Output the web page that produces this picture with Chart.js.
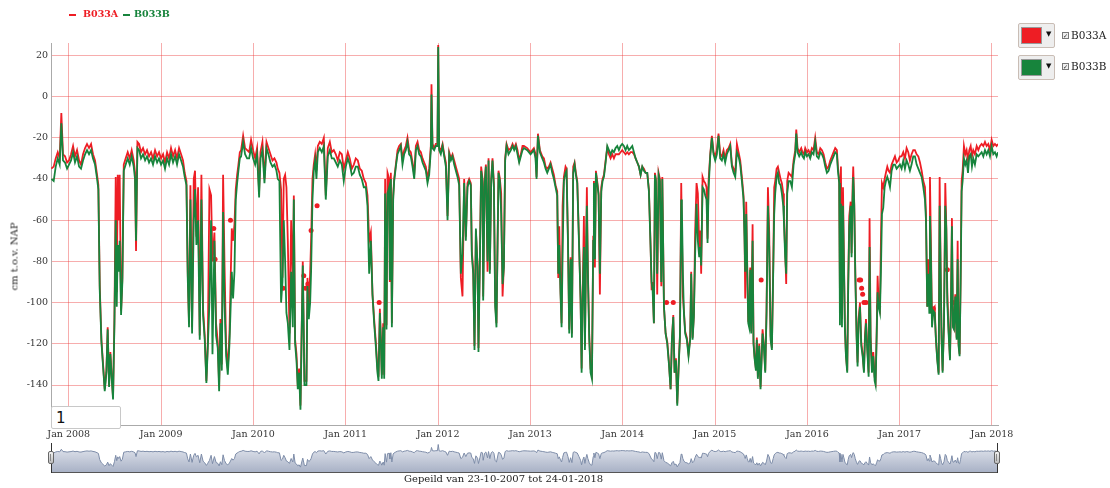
<!DOCTYPE html>
<html>
<head>
<meta charset="utf-8">
<script src="https://cdn.jsdelivr.net/npm/chart.js@4/dist/chart.umd.min.js"></script>
<style>
  body { margin: 0; background: #fff; }
  #wrap { position: relative; width: 1110px; height: 488px; overflow: hidden; font-family: "DejaVu Serif", serif; color: #222; }
  #main { position: absolute; left: 0; top: 0; }
  #mini { position: absolute; left: 51px; top: 444px; }
  .abs { position: absolute; white-space: nowrap; }
  .dash { position: absolute; height: 2px; width: 7px; top: 14px; }
  .leg { position: absolute; top: 8px; font-weight: bold; font-size: 9.5px; }
  .pick { position: absolute; left: 1018px; width: 37px; height: 25px; box-sizing: border-box; border: 1px solid #c9bdb5; background: #eeeeee; border-radius: 2px; }
  .sw { position: absolute; left: 2px; top: 3px; width: 21px; height: 17px; border: 1px solid #999; box-sizing: border-box; }
  .arr { position: absolute; left: 27px; top: 6px; font-size: 7px; color: #111; font-family: "DejaVu Sans", sans-serif; }
  .cb { position: absolute; left: 1062px; width: 7px; height: 7px; box-sizing: border-box; border: 1px solid #777; background: #eee; font-family: "DejaVu Sans", sans-serif; font-size: 6px; line-height: 5px; text-align: center; color: #222; }
  .lbl { position: absolute; left: 1071px; font-size: 10.5px; color: #222; }
  #roll { position: absolute; left: 51px; top: 406px; width: 70px; height: 23px; box-sizing: border-box; border: 1px solid #c8c8c8; border-radius: 2px; background: #fff; font-family: "DejaVu Sans", sans-serif; font-size: 15px; padding: 0 0 0 4px; color: #111; }
  .handle { position: absolute; width: 6px; height: 13px; top: 451px; box-sizing: border-box; border: 1px solid #666; border-radius: 2px; background: linear-gradient(#f2f2f2, #bdbdbd); }
  .handle::after { content: ""; position: absolute; left: 1px; top: 2px; width: 2px; height: 7px; border-left: 1px solid #888; }
  .vline { position: absolute; width: 1px; top: 443px; height: 30px; background: #333; }
  #ytitle { position: absolute; left: -36px; top: 251px; width: 100px; text-align: center; font-size: 10px; font-weight: normal; color: #222; transform: rotate(-90deg); white-space: nowrap; }
</style>
</head>
<body>
<div id="wrap">
  <canvas id="main" width="1110" height="445"></canvas>
  <canvas id="mini" width="947" height="28"></canvas>
  <div class="abs" style="left:51px;top:472px;width:947px;height:1px;background:#555;"></div>
  <div class="vline" style="left:51px;"></div>
  <div class="vline" style="left:997px;"></div>
  <div class="handle" style="left:48px;"></div>
  <div class="handle" style="left:994px;"></div>

  <div class="dash" style="left:69px;background:#ee1d24;"></div>
  <div class="leg" style="left:83px;color:#ee1d24;">B033A</div>
  <div class="dash" style="left:123px;background:#17843c;"></div>
  <div class="leg" style="left:134px;color:#17843c;">B033B</div>

  <div class="pick" style="top:23px;"><span class="sw" style="background:#ee1d24;"></span><span class="arr">&#9660;</span></div>
  <div class="cb" style="top:32px;">&#10003;</div>
  <div class="lbl" style="top:29px;">B033A</div>
  <div class="pick" style="top:55px;"><span class="sw" style="background:#17843c;"></span><span class="arr">&#9660;</span></div>
  <div class="cb" style="top:63px;">&#10003;</div>
  <div class="lbl" style="top:60px;">B033B</div>

  <div id="ytitle">cm t.o.v. NAP</div>
  <input id="roll" type="text" value="1">
  <div class="abs" style="left:404px;top:473px;font-size:10px;">Gepeild van 23-10-2007 tot 24-01-2018</div>
</div>
<script>
// Time of each reading, in decimal years
const dates = [
  2007.812,2007.837,2007.859,2007.881,2007.902,2007.920,2007.938,2007.960,2007.982,2008.003,2008.025,2008.047,
  2008.068,2008.090,2008.112,2008.133,2008.155,2008.177,2008.198,2008.220,2008.242,2008.263,2008.285,2008.307,
  2008.321,2008.336,2008.354,2008.372,2008.390,2008.408,2008.422,2008.437,2008.451,2008.466,2008.480,2008.495,
  2008.509,2008.520,2008.531,2008.541,2008.552,2008.567,2008.581,2008.596,2008.617,2008.639,2008.661,2008.682,
  2008.704,2008.718,2008.729,2008.744,2008.762,2008.783,2008.805,2008.827,2008.848,2008.870,2008.892,2008.913,
  2008.935,2008.957,2008.978,2009.000,2009.022,2009.043,2009.065,2009.087,2009.108,2009.130,2009.152,2009.173,
  2009.195,2009.217,2009.238,2009.256,2009.275,2009.289,2009.303,2009.318,2009.336,2009.354,2009.368,2009.383,
  2009.401,2009.419,2009.437,2009.455,2009.473,2009.491,2009.506,2009.524,2009.542,2009.557,2009.578,2009.596,
  2009.614,2009.629,2009.643,2009.658,2009.672,2009.687,2009.705,2009.723,2009.741,2009.766,2009.780,2009.795,
  2009.809,2009.824,2009.838,2009.853,2009.867,2009.889,2009.910,2009.932,2009.954,2009.975,2009.997,2010.019,
  2010.040,2010.062,2010.077,2010.098,2010.120,2010.142,2010.163,2010.185,2010.207,2010.228,2010.250,2010.264,
  2010.282,2010.300,2010.315,2010.329,2010.344,2010.358,2010.373,2010.391,2010.409,2010.427,2010.438,2010.452,
  2010.467,2010.481,2010.495,2010.510,2010.524,2010.535,2010.553,2010.575,2010.586,2010.600,2010.615,2010.625,
  2010.640,2010.654,2010.669,2010.683,2010.698,2010.719,2010.741,2010.763,2010.784,2010.806,2010.828,2010.849,
  2010.871,2010.893,2010.914,2010.936,2010.958,2010.979,2011.001,2011.023,2011.044,2011.066,2011.088,2011.109,
  2011.131,2011.153,2011.174,2011.196,2011.218,2011.236,2011.254,2011.272,2011.290,2011.308,2011.326,2011.344,
  2011.355,2011.370,2011.380,2011.391,2011.406,2011.417,2011.427,2011.442,2011.453,2011.471,2011.478,2011.489,
  2011.500,2011.514,2011.525,2011.543,2011.561,2011.579,2011.597,2011.615,2011.633,2011.651,2011.669,2011.687,
  2011.705,2011.724,2011.742,2011.760,2011.778,2011.796,2011.814,2011.832,2011.850,2011.868,2011.886,2011.904,
  2011.922,2011.929,2011.940,2011.958,2011.976,2011.994,2012.002,2012.012,2012.030,2012.049,2012.067,2012.085,
  2012.103,2012.121,2012.139,2012.157,2012.175,2012.193,2012.211,2012.229,2012.247,2012.265,2012.283,2012.301,
  2012.319,2012.337,2012.355,2012.366,2012.381,2012.395,2012.410,2012.428,2012.438,2012.453,2012.467,2012.482,
  2012.489,2012.504,2012.518,2012.536,2012.547,2012.561,2012.576,2012.590,2012.605,2012.619,2012.633,2012.655,
  2012.670,2012.684,2012.699,2012.713,2012.727,2012.742,2012.763,2012.789,2012.807,2012.825,2012.843,2012.861,
  2012.879,2012.897,2012.915,2012.930,2012.966,2013.002,2013.038,2013.056,2013.067,2013.082,2013.103,2013.129,
  2013.147,2013.165,2013.183,2013.201,2013.219,2013.237,2013.255,2013.273,2013.291,2013.302,2013.313,2013.327,
  2013.338,2013.349,2013.363,2013.381,2013.392,2013.407,2013.421,2013.436,2013.450,2013.464,2013.479,2013.493,
  2013.508,2013.526,2013.544,2013.555,2013.566,2013.580,2013.591,2013.602,2013.612,2013.623,2013.638,2013.652,
  2013.667,2013.681,2013.688,2013.699,2013.710,2013.724,2013.739,2013.753,2013.768,2013.782,2013.797,2013.815,
  2013.833,2013.851,2013.869,2013.887,2013.905,2013.923,2013.941,2013.959,2013.977,2013.995,2014.013,2014.031,
  2014.049,2014.067,2014.086,2014.104,2014.122,2014.140,2014.158,2014.176,2014.194,2014.212,2014.230,2014.248,
  2014.266,2014.284,2014.302,2014.313,2014.324,2014.338,2014.349,2014.360,2014.374,2014.389,2014.403,2014.418,
  2014.429,2014.447,2014.465,2014.483,2014.501,2014.519,2014.533,2014.548,2014.562,2014.577,2014.591,2014.609,
  2014.620,2014.634,2014.641,2014.652,2014.663,2014.677,2014.695,2014.713,2014.731,2014.742,2014.757,2014.771,
  2014.785,2014.800,2014.814,2014.829,2014.840,2014.850,2014.865,2014.879,2014.894,2014.908,2014.919,2014.930,
  2014.948,2014.966,2014.984,2015.002,2015.020,2015.038,2015.056,2015.074,2015.092,2015.110,2015.128,2015.147,
  2015.165,2015.183,2015.201,2015.219,2015.237,2015.255,2015.273,2015.291,2015.309,2015.320,2015.327,2015.338,
  2015.349,2015.360,2015.370,2015.381,2015.392,2015.407,2015.417,2015.428,2015.443,2015.453,2015.464,2015.479,
  2015.493,2015.515,2015.529,2015.544,2015.558,2015.573,2015.587,2015.602,2015.616,2015.630,2015.641,2015.652,
  2015.667,2015.681,2015.695,2015.710,2015.724,2015.739,2015.746,2015.760,2015.771,2015.782,2015.797,2015.815,
  2015.833,2015.851,2015.869,2015.880,2015.894,2015.912,2015.934,2015.948,2015.963,2015.977,2015.995,2016.013,
  2016.031,2016.049,2016.067,2016.085,2016.103,2016.122,2016.140,2016.158,2016.176,2016.194,2016.212,2016.230,
  2016.248,2016.266,2016.284,2016.302,2016.320,2016.331,2016.345,2016.353,2016.364,2016.375,2016.386,2016.396,
  2016.407,2016.418,2016.432,2016.443,2016.454,2016.469,2016.479,2016.490,2016.497,2016.508,2016.519,2016.534,
  2016.544,2016.555,2016.570,2016.584,2016.599,2016.613,2016.624,2016.635,2016.649,2016.664,2016.674,2016.685,
  2016.700,2016.714,2016.729,2016.739,2016.750,2016.761,2016.772,2016.786,2016.797,2016.808,2016.822,2016.837,
  2016.851,2016.866,2016.880,2016.895,2016.913,2016.931,2016.949,2016.967,2016.985,2017.003,2017.021,2017.039,
  2017.057,2017.075,2017.093,2017.111,2017.129,2017.147,2017.165,2017.184,2017.202,2017.220,2017.238,2017.256,
  2017.274,2017.285,2017.299,2017.310,2017.321,2017.328,2017.339,2017.350,2017.364,2017.379,2017.393,2017.407,
  2017.422,2017.433,2017.444,2017.454,2017.465,2017.480,2017.494,2017.505,2017.516,2017.530,2017.545,2017.555,
  2017.566,2017.577,2017.588,2017.602,2017.617,2017.628,2017.638,2017.649,2017.660,2017.671,2017.682,2017.696,
  2017.711,2017.725,2017.740,2017.754,2017.769,2017.783,2017.797,2017.815,2017.834,2017.852,2017.870,2017.888,
  2017.906,2017.924,2017.942,2017.960,2017.978,2017.996,2018.014,2018.032,2018.050,2018.065
];
// B033A, cm t.o.v. NAP
const b033a = [
  -35,-34,-30,-27,-30,-8,-28,-29,-32,-31,-28,-24,
  -29,-26,-31,-33,-28,-25,-23,-25,-23,-28,-31,-38,
  -43,-92,-118,-130,-142,-133,-112,-140,-124,-136,-146,-108,
  -39,-95,-38,-60,-38,-104,-88,-33,-30,-27,-30,-26,
  -31,-37,-75,-22,-23,-27,-25,-28,-26,-29,-27,-30,
  -26,-29,-27,-30,-28,-32,-27,-30,-25,-29,-26,-30,
  -25,-28,-31,-37,-41,-85,-110,-43,-112,-40,-36,-68,
  -44,-116,-38,-103,-116,-138,-120,-45,-48,-80,-66,-110,
  -119,-140,-108,-130,-38,-80,-122,-132,-115,-64,-70,-62,
  -45,-38,-33,-27,-26,-19,-25,-26,-27,-21,-26,-30,
  -25,-46,-27,-22,-40,-22,-25,-28,-31,-30,-32,-35,
  -37,-45,-88,-40,-38,-44,-70,-115,-60,-90,-48,-118,
  -125,-140,-132,-150,-110,-80,-138,-138,-88,-105,-85,-70,
  -40,-33,-28,-36,-24,-22,-23,-20,-48,-25,-22,-27,
  -26,-28,-31,-27,-28,-35,-31,-27,-30,-35,-33,-30,
  -31,-35,-36,-40,-42,-48,-70,-66,-96,-108,-119,-132,
  -136,-103,-116,-135,-110,-135,-40,-111,-37,-40,-90,-37,
  -110,-48,-40,-33,-26,-24,-23,-30,-26,-24,-20,-26,
  -27,-32,-38,-24,-22,-26,-27,-30,-32,-34,-40,-35,
  -24,6,-23,-25,-23,-23,25,-25,-26,-23,-28,-32,
  -58,-27,-30,-28,-31,-34,-37,-40,-88,-97,-40,-68,
  -42,-40,-42,-75,-84,-121,-65,-82,-122,-78,-34,-40,
  -97,-42,-33,-85,-30,-84,-40,-30,-42,-100,-110,-36,
  -40,-47,-97,-82,-30,-23,-26,-25,-23,-25,-23,-26,
  -31,-28,-24,-24,-25,-27,-25,-28,-39,-18,-26,-29,
  -30,-34,-35,-34,-32,-35,-38,-43,-46,-88,-63,-95,
  -110,-53,-39,-34,-35,-68,-113,-78,-115,-34,-32,-37,
  -41,-68,-99,-132,-97,-58,-121,-78,-44,-84,-116,-132,
  -135,-68,-41,-83,-36,-41,-47,-96,-44,-40,-38,-31,
  -25,-28,-30,-28,-30,-28,-28,-28,-27,-26,-27,-28,
  -27,-28,-27,-27,-28,-30,-32,-34,-38,-34,-35,-37,
  -37,-45,-72,-94,-90,-110,-37,-40,-96,-37,-40,-92,
  -39,-102,-115,-119,-129,-142,-118,-106,-134,-127,-149,-127,
  -116,-42,-42,-97,-104,-114,-117,-125,-117,-85,-117,-106,
  -65,-42,-47,-73,-65,-86,-39,-41,-42,-44,-69,-41,
  -28,-19,-27,-29,-26,-18,-28,-29,-26,-30,-26,-25,
  -23,-33,-35,-37,-23,-27,-31,-39,-48,-68,-98,-51,
  -83,-109,-110,-83,-114,-62,-119,-126,-132,-117,-136,-120,
  -141,-113,-120,-133,-104,-44,-66,-116,-122,-84,-44,-41,
  -35,-34,-37,-40,-42,-47,-58,-75,-91,-41,-37,-38,
  -39,-31,-26,-16,-25,-27,-25,-27,-28,-25,-27,-26,
  -28,-25,-26,-20,-27,-28,-25,-26,-28,-32,-35,-34,
  -31,-29,-27,-25,-26,-34,-40,-98,-34,-108,-44,-78,
  -112,-125,-133,-89,-58,-51,-76,-44,-34,-52,-84,-116,
  -129,-108,-100,-119,-125,-133,-116,-108,-121,-134,-59,-116,
  -132,-124,-136,-138,-116,-87,-100,-103,-70,-42,-44,-40,
  -37,-34,-36,-37,-33,-31,-29,-32,-31,-29,-29,-27,
  -30,-25,-27,-31,-28,-26,-26,-28,-29,-32,-36,-41,
  -44,-57,-102,-79,-99,-39,-73,-110,-103,-102,-118,-127,
  -134,-39,-86,-117,-133,-110,-42,-63,-95,-113,-127,-101,
  -59,-110,-112,-96,-117,-70,-120,-125,-89,-41,-36,-24,
  -28,-26,-31,-26,-24,-29,-26,-28,-24,-26,-24,-23,
  -24,-22,-24,-23,-26,-21,-24,-23,-24,-23
];
// B033B, cm t.o.v. NAP
const b033b = [
  -40,-41,-34,-30,-33,-13,-31,-32,-35,-33,-31,-27,
  -32,-29,-34,-35,-31,-28,-26,-28,-26,-30,-33,-40,
  -45,-94,-119,-131,-143,-134,-113,-141,-125,-137,-147,-110,
  -60,-102,-72,-85,-70,-106,-90,-36,-33,-30,-33,-29,
  -34,-40,-70,-25,-26,-30,-28,-31,-29,-32,-30,-33,
  -29,-32,-30,-33,-31,-35,-30,-33,-28,-32,-29,-33,
  -28,-31,-34,-39,-43,-88,-112,-50,-115,-60,-45,-72,
  -60,-118,-50,-106,-118,-139,-122,-100,-60,-125,-70,-116,
  -122,-143,-110,-133,-56,-100,-126,-135,-120,-85,-98,-85,
  -50,-42,-36,-30,-29,-22,-28,-30,-30,-25,-30,-33,
  -28,-49,-30,-26,-42,-25,-28,-32,-34,-33,-36,-40,
  -41,-100,-90,-60,-80,-105,-110,-123,-85,-112,-50,-120,
  -128,-142,-134,-152,-112,-82,-140,-140,-92,-108,-100,-85,
  -50,-36,-31,-40,-27,-25,-27,-24,-50,-29,-26,-30,
  -30,-32,-34,-31,-33,-41,-34,-30,-33,-38,-37,-34,
  -34,-38,-40,-44,-44,-53,-86,-70,-96,-110,-121,-134,
  -138,-105,-118,-137,-112,-137,-47,-113,-47,-44,-89,-40,
  -112,-50,-41,-34,-28,-26,-24,-33,-28,-26,-22,-28,
  -29,-34,-40,-26,-24,-28,-29,-32,-34,-36,-42,-38,
  -26,1,-25,-26,-24,-24,24,-26,-28,-24,-29,-34,
  -60,-28,-31,-29,-33,-36,-39,-43,-86,-76,-42,-70,
  -44,-41,-43,-77,-86,-123,-64,-83,-124,-80,-36,-41,
  -99,-44,-34,-80,-31,-86,-41,-31,-44,-102,-112,-37,
  -41,-57,-91,-83,-31,-24,-28,-26,-24,-26,-24,-28,
  -32,-29,-26,-25,-26,-28,-26,-30,-40,-19,-27,-30,
  -32,-35,-37,-35,-33,-37,-40,-44,-48,-86,-72,-96,
  -112,-77,-41,-37,-36,-70,-115,-79,-117,-37,-33,-38,
  -42,-70,-99,-134,-99,-73,-123,-80,-53,-86,-118,-134,
  -137,-70,-42,-79,-37,-42,-48,-86,-46,-41,-39,-32,
  -24,-26,-28,-26,-27,-25,-24,-26,-24,-23,-24,-26,
  -24,-26,-25,-24,-27,-30,-32,-34,-38,-34,-36,-37,
  -37,-46,-73,-90,-94,-110,-38,-41,-86,-38,-41,-90,
  -40,-102,-115,-120,-130,-142,-118,-107,-134,-128,-150,-128,
  -117,-50,-53,-86,-105,-115,-118,-126,-118,-86,-118,-107,
  -76,-52,-70,-78,-73,-82,-44,-45,-48,-50,-71,-45,
  -29,-20,-28,-31,-28,-19,-30,-31,-28,-32,-28,-26,
  -24,-34,-37,-39,-27,-29,-33,-41,-50,-70,-85,-57,
  -84,-110,-112,-84,-115,-70,-120,-127,-133,-118,-137,-121,
  -142,-115,-121,-134,-105,-53,-73,-118,-123,-86,-57,-47,
  -39,-37,-42,-43,-47,-53,-60,-78,-86,-47,-41,-41,
  -44,-33,-28,-18,-27,-29,-27,-29,-30,-27,-29,-28,
  -30,-27,-28,-22,-29,-30,-27,-28,-30,-34,-37,-36,
  -33,-31,-29,-27,-28,-36,-42,-111,-52,-112,-53,-80,
  -113,-126,-134,-91,-63,-53,-78,-50,-39,-53,-86,-118,
  -131,-110,-102,-121,-126,-134,-118,-110,-123,-136,-73,-118,
  -134,-126,-138,-140,-118,-95,-102,-105,-85,-57,-54,-44,
  -41,-39,-41,-44,-36,-33,-33,-35,-34,-33,-35,-31,
  -35,-31,-33,-36,-33,-29,-29,-33,-35,-37,-39,-44,
  -50,-60,-102,-86,-105,-58,-79,-112,-104,-105,-118,-128,
  -135,-53,-86,-118,-134,-110,-53,-64,-100,-115,-128,-102,
  -63,-112,-113,-97,-118,-79,-121,-126,-91,-46,-41,-30,
  -33,-31,-37,-29,-28,-34,-30,-33,-28,-29,-28,-27,
  -29,-26,-28,-26,-29,-24,-28,-27,-29,-27
];
// Isolated B033A readings (no neighbouring readings), shown as dots
const looseDates = [2009.571,2009.585,2009.752,2010.322,2010.546,2010.564,2010.590,2010.625,2010.690,2011.362,
                    2014.475,2014.548,2015.500,2016.562,2016.577,2016.588,2016.599,2016.613,2016.635,2016.772,
                    2017.364,2017.516,2017.577];
const looseA = [-64,-79,-60,-93,-87,-93,-91,-65,-53,-100,
                -100,-100,-89,-89,-89,-93,-96,-100,-100,-102,
                -103,-84,-100];
const yearTicks = [2008,2009,2010,2011,2012,2013,2014,2015,2016,2017,2018];
const valueTicks = [-140,-120,-100,-80,-60,-40,-20,0,20];

const X_MIN = 2007.808, X_MAX = 2018.065;
const Y_MIN = -159.4, Y_MAX = 26;
const RED = '#ee1d24', GREEN = '#17843c';
const GRID = 'rgba(236,60,60,0.42)';
const TICK_FONT = { family: '"DejaVu Serif", serif', size: 9.5 };

const n = Math.min(dates.length, b033a.length, b033b.length);
if (dates.length !== b033a.length || dates.length !== b033b.length) console.warn('length mismatch', dates.length, b033a.length, b033b.length);
const pts = (ts, vs, len) => ts.slice(0, len).map((t, i) => ({ x: t, y: vs[i] }));

new Chart(document.getElementById('main'), {
  type: 'line',
  data: {
    datasets: [
      { label: 'B033A', data: pts(dates, b033a, n), borderColor: RED, borderWidth: 1.8, pointRadius: 0, tension: 0, order: 3 },
      { label: 'B033A (los)', data: pts(looseDates, looseA, looseDates.length), showLine: false, pointRadius: 2.5, pointBorderWidth: 0, pointBackgroundColor: RED, order: 2 },
      { label: 'B033B', data: pts(dates, b033b, n), borderColor: GREEN, borderWidth: 1.8, pointRadius: 0, tension: 0, order: 1 }
    ]
  },
  options: {
    responsive: false,
    animation: false,
    events: [],
    layout: { padding: { top: 43, right: 112, left: 0, bottom: 0 } },
    plugins: { legend: { display: false }, tooltip: { enabled: false } },
    scales: {
      x: {
        type: 'linear', min: X_MIN, max: X_MAX,
        afterBuildTicks: s => { s.ticks = yearTicks.map(v => ({ value: v })); },
        afterFit: s => { s.height = 20; },
        ticks: { callback: v => 'Jan ' + v, font: TICK_FONT, color: '#333', padding: 4, maxRotation: 0, autoSkip: false },
        grid: { color: GRID, drawTicks: false },
        border: { color: '#aaaaaa', width: 1 }
      },
      y: {
        type: 'linear', min: Y_MIN, max: Y_MAX,
        afterBuildTicks: s => { s.ticks = valueTicks.map(v => ({ value: v })); },
        afterFit: s => { s.width = 51; },
        ticks: { callback: v => String(v), font: TICK_FONT, color: '#333', padding: 3 },
        grid: { color: GRID, drawTicks: false },
        border: { color: '#aaaaaa', width: 1 }
      }
    }
  }
});

new Chart(document.getElementById('mini'), {
  type: 'line',
  data: {
    datasets: [{
      data: pts(dates, b033b, n),
      borderColor: '#7d8ca8', borderWidth: 1, pointRadius: 0, tension: 0,
      fill: 'start',
      backgroundColor: ctx => {
        const a = ctx.chart.chartArea;
        if (!a) return '#cfd5e1';
        const g = ctx.chart.ctx.createLinearGradient(0, a.top, 0, a.bottom);
        g.addColorStop(0, '#e6e9f0');
        g.addColorStop(1, '#a9b2c6');
        return g;
      }
    }]
  },
  options: {
    responsive: false, animation: false, events: [],
    layout: { padding: 0 },
    plugins: { legend: { display: false }, tooltip: { enabled: false } },
    scales: {
      x: { type: 'linear', display: false, min: X_MIN, max: X_MAX },
      y: { type: 'linear', display: false, min: -190, max: 28 }
    }
  }
});
</script>
</body>
</html>
